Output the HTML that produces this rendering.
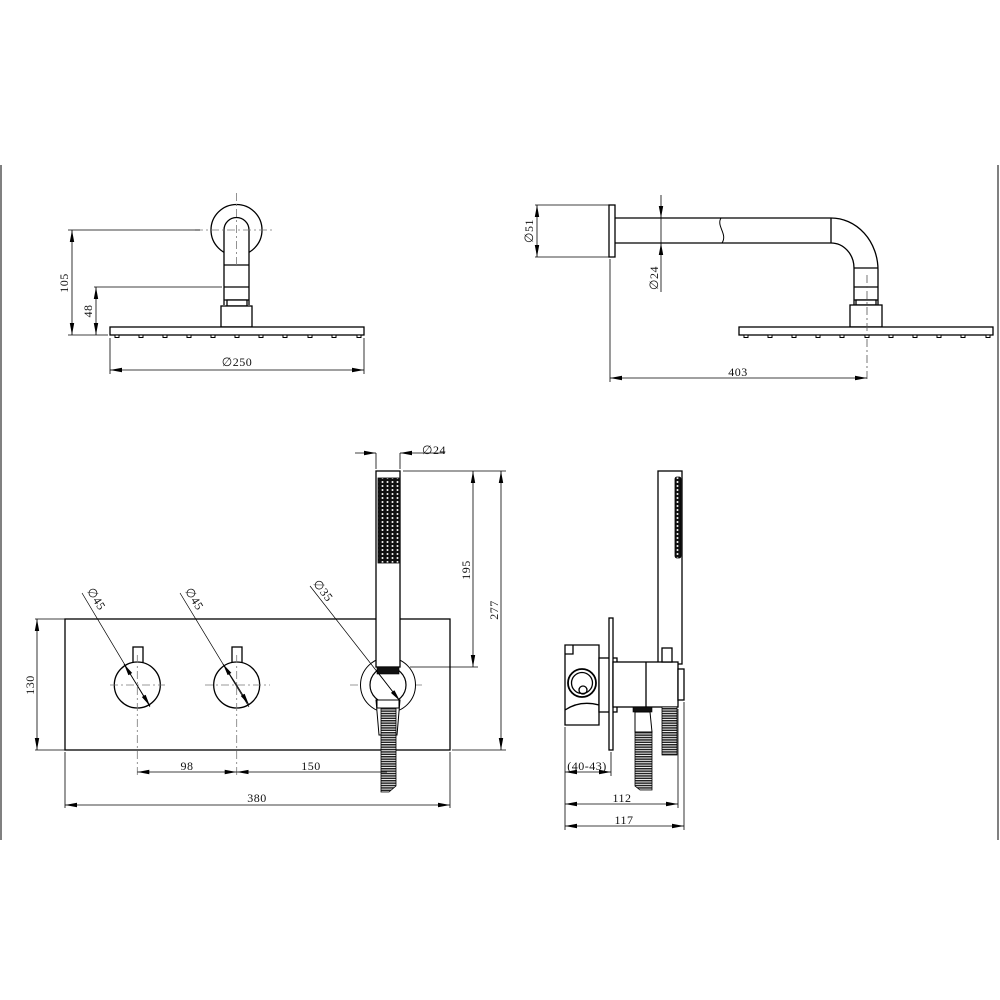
<!DOCTYPE html>
<html><head><meta charset="utf-8"><style>
html,body{margin:0;padding:0;background:#fff;}
svg{display:block;}
text{font-family:"Liberation Serif",serif;font-size:12px;fill:#111;letter-spacing:0.5px;}
</style></head><body>
<svg width="1000" height="1000" viewBox="0 0 1000 1000" xmlns="http://www.w3.org/2000/svg">
<defs>
<marker id="a" viewBox="0 0 12 6" refX="12" refY="3" markerWidth="12" markerHeight="6" orient="auto-start-reverse" markerUnits="userSpaceOnUse"><path d="M0,0.8 L12,3 L0,5.2z" fill="#000"/></marker>
<pattern id="hose" width="6" height="2.4" patternUnits="userSpaceOnUse"><rect width="6" height="2.4" fill="#fff"/><rect width="6" height="1.5" fill="#222"/></pattern>
<pattern id="noz" width="5" height="4" patternUnits="userSpaceOnUse"><rect width="5" height="4" fill="#111"/><circle cx="2.5" cy="2" r="1" fill="#fff"/></pattern>
</defs>
<g fill="none" stroke="#000" stroke-width="1.3">
<line x1="1" y1="165" x2="1" y2="840" stroke-width="1"/>
<line x1="998" y1="165" x2="998" y2="840" stroke-width="1"/>

<circle cx="236.5" cy="230" r="25.5"/>
<path d="M224,305 V230 A12.5,12.5 0 0 1 249,230 V305" fill="#fff"/>
<line x1="224" y1="265" x2="249" y2="265"/>
<line x1="224" y1="287" x2="249" y2="287"/>
<line x1="224" y1="300" x2="249" y2="300"/>
<rect x="227" y="300" width="20" height="6" fill="#fff"/>
<rect x="221" y="306" width="31" height="21" fill="#fff"/>
<rect x="110" y="327" width="254" height="8" fill="#fff"/>
<g stroke-width="1" fill="#fff">
<rect x="115" y="335" width="4" height="2.5"/><rect x="139" y="335" width="4" height="2.5"/><rect x="163" y="335" width="4" height="2.5"/><rect x="187" y="335" width="4" height="2.5"/><rect x="211" y="335" width="4" height="2.5"/><rect x="235" y="335" width="4" height="2.5"/><rect x="259" y="335" width="4" height="2.5"/><rect x="283" y="335" width="4" height="2.5"/><rect x="308" y="335" width="4" height="2.5"/><rect x="332" y="335" width="4" height="2.5"/><rect x="357" y="335" width="4" height="2.5"/>
</g>
<g stroke="#777" stroke-width="0.8" stroke-dasharray="8,3,2,3">
<line x1="236.5" y1="193" x2="236.5" y2="265"/>
<line x1="195" y1="230" x2="275" y2="230"/>
</g>
<g stroke-width="0.8">
<line x1="68" y1="230" x2="200" y2="230"/>
<line x1="94" y1="287" x2="222" y2="287"/>
<line x1="68" y1="335" x2="108" y2="335"/>
<line x1="72" y1="230" x2="72" y2="335" marker-start="url(#a)" marker-end="url(#a)"/>
<line x1="96" y1="287" x2="96" y2="335" marker-start="url(#a)" marker-end="url(#a)"/>
<line x1="110" y1="338" x2="110" y2="374"/>
<line x1="364" y1="338" x2="364" y2="374"/>
<line x1="110" y1="370" x2="364" y2="370" marker-start="url(#a)" marker-end="url(#a)"/>
</g>

<rect x="609" y="205" width="6" height="52" fill="#fff"/>
<path d="M615,218 H831 A47,52 0 0 1 878,270 V305 M615,243 H831 A23,25 0 0 1 854,268 V305"/>
<line x1="831" y1="218" x2="831" y2="243"/>
<path d="M721,218 C716,226 728,234 722,243" stroke-width="1"/>
<line x1="854" y1="268" x2="878" y2="268"/>
<line x1="854" y1="287" x2="878" y2="287"/>
<line x1="854" y1="300" x2="878" y2="300"/>
<rect x="856" y="300" width="20" height="5" fill="#fff"/>
<rect x="850" y="305" width="32" height="22" fill="#fff"/>
<rect x="739" y="327" width="254" height="8" fill="#fff"/>
<g stroke-width="1" fill="#fff">
<rect x="744" y="335" width="4" height="2.5"/><rect x="768" y="335" width="4" height="2.5"/><rect x="792" y="335" width="4" height="2.5"/><rect x="816" y="335" width="4" height="2.5"/><rect x="840" y="335" width="4" height="2.5"/><rect x="865" y="335" width="4" height="2.5"/><rect x="889" y="335" width="4" height="2.5"/><rect x="913" y="335" width="4" height="2.5"/><rect x="937" y="335" width="4" height="2.5"/><rect x="961" y="335" width="4" height="2.5"/><rect x="986" y="335" width="4" height="2.5"/>
</g>
<line x1="867" y1="275" x2="867" y2="382" stroke="#555" stroke-width="0.8" stroke-dasharray="8,3,2,3"/>
<g stroke-width="0.8">
<line x1="535" y1="205" x2="609" y2="205"/>
<line x1="535" y1="257" x2="609" y2="257"/>
<line x1="537" y1="205" x2="537" y2="257" marker-start="url(#a)" marker-end="url(#a)"/>
<line x1="661" y1="195" x2="661" y2="218" marker-end="url(#a)"/>
<line x1="661" y1="292" x2="661" y2="243" marker-end="url(#a)"/>
<line x1="661" y1="218" x2="661" y2="243"/>
<line x1="610" y1="259" x2="610" y2="382"/>
<line x1="610" y1="378" x2="867" y2="378" marker-start="url(#a)" marker-end="url(#a)"/>
</g>

<rect x="65" y="619" width="385" height="131" fill="#fff"/>
<rect x="133" y="647" width="10" height="16" fill="#fff"/>
<circle cx="137.3" cy="685" r="23" fill="#fff"/>
<rect x="232" y="647" width="10" height="16" fill="#fff"/>
<circle cx="236.7" cy="685" r="23" fill="#fff"/>
<g stroke="#777" stroke-width="0.8" stroke-dasharray="8,3,2,3">
<line x1="110" y1="685" x2="165" y2="685"/><line x1="137.3" y1="655" x2="137.3" y2="775"/>
<line x1="205" y1="685" x2="270" y2="685"/><line x1="236.7" y1="655" x2="236.7" y2="775"/>
<line x1="350" y1="685" x2="425" y2="685"/><line x1="388" y1="655" x2="388" y2="715"/>
</g>
<circle cx="388" cy="685" r="27.5" stroke-width="1" fill="#fff"/>
<circle cx="388" cy="685" r="18" stroke-width="1.2"/>
<rect x="376" y="471" width="24" height="196" fill="#fff"/>
<rect x="378" y="478" width="21" height="85" fill="url(#noz)" stroke-width="0.8"/>
<rect x="377" y="667" width="22" height="7" fill="#111" stroke-width="0.6"/>
<path d="M376,700 L400,700 L397,735 L379,735 Z" fill="#fff" stroke-width="1"/>
<rect x="377" y="700" width="22" height="8" fill="#fff" stroke-width="1"/>
<path d="M381,708 H396 V786 L389,792 H381 Z" fill="url(#hose)" stroke-width="0.8"/>
<g stroke-width="0.8">
<line x1="35" y1="619" x2="65" y2="619"/><line x1="35" y1="750" x2="65" y2="750"/>
<line x1="37" y1="619" x2="37" y2="750" marker-start="url(#a)" marker-end="url(#a)"/>
<line x1="65" y1="752" x2="65" y2="808"/>
<line x1="450" y1="752" x2="450" y2="808"/>
<line x1="137.3" y1="772" x2="236.7" y2="772" marker-start="url(#a)" marker-end="url(#a)"/>
<line x1="236.7" y1="772" x2="387" y2="772" marker-start="url(#a)"/>
<line x1="65" y1="805" x2="450" y2="805" marker-start="url(#a)" marker-end="url(#a)"/>
<line x1="82" y1="593" x2="150" y2="707" stroke-width="0.7"/>
<line x1="137" y1="685" x2="124" y2="664" marker-end="url(#a)"/>
<line x1="137" y1="685" x2="150" y2="706" marker-end="url(#a)"/>
<line x1="180" y1="593" x2="249" y2="707" stroke-width="0.7"/>
<line x1="236" y1="684" x2="249" y2="705" marker-end="url(#a)"/>
<line x1="236" y1="684" x2="223" y2="664" marker-end="url(#a)"/>
<line x1="310" y1="586" x2="400" y2="701" stroke-width="0.7"/>
<line x1="376" y1="670" x2="400" y2="701" marker-end="url(#a)"/>
<line x1="376" y1="453" x2="376" y2="469"/><line x1="400" y1="453" x2="400" y2="469"/>
<line x1="355" y1="453" x2="376" y2="453" marker-end="url(#a)"/>
<line x1="445" y1="453" x2="400" y2="453" marker-end="url(#a)"/>
<line x1="403" y1="471" x2="506" y2="471"/>
<line x1="410" y1="667" x2="478" y2="667"/>
<line x1="452" y1="750" x2="506" y2="750"/>
<line x1="473" y1="471" x2="473" y2="667" marker-start="url(#a)" marker-end="url(#a)"/>
<line x1="501" y1="471" x2="501" y2="750" marker-start="url(#a)" marker-end="url(#a)"/>
</g>

<rect x="658" y="471" width="24" height="193" fill="#fff"/>
<rect x="675" y="477" width="6" height="81" rx="2" fill="url(#noz)" stroke-width="0.8"/>
<path d="M565,645 H599 V725 H565 Z M565,654 L573,654 L573,645 M565,710 Q580,700 599,705" fill="#fff"/>
<circle cx="582" cy="683" r="14" stroke-width="1.8"/>
<circle cx="582" cy="683" r="10.5"/>
<circle cx="583" cy="690" r="4"/>
<rect x="599" y="658" width="18" height="54" fill="#fff"/>
<rect x="609" y="618" width="4" height="132" fill="#fff"/>
<rect x="613" y="662" width="65" height="45" fill="#fff"/>
<line x1="646" y1="662" x2="646" y2="707"/>
<rect x="662" y="648" width="10" height="14" fill="#fff"/>
<rect x="678" y="669" width="6" height="31" fill="#fff"/>
<rect x="633" y="707" width="19" height="5" fill="#111" stroke-width="0.6"/>
<path d="M635,712 H650 L652,732 H635 Z" fill="#fff" stroke-width="1"/>
<path d="M635,732 H652 V790 H640 L635,786 Z" fill="url(#hose)" stroke-width="0.8"/>
<path d="M662,707 H677 V755 H662 Z" fill="url(#hose)" stroke-width="0.8"/>
<g stroke-width="0.8">
<line x1="565" y1="727" x2="565" y2="830"/>
<line x1="611" y1="752" x2="611" y2="776"/>
<line x1="678" y1="709" x2="678" y2="808"/>
<line x1="684" y1="702" x2="684" y2="830"/>
<line x1="565" y1="772" x2="611" y2="772" marker-start="url(#a)" marker-end="url(#a)"/>
<line x1="565" y1="804" x2="678" y2="804" marker-start="url(#a)" marker-end="url(#a)"/>
<line x1="565" y1="826" x2="684" y2="826" marker-start="url(#a)" marker-end="url(#a)"/>
</g>
</g>

<text transform="translate(68,283) rotate(-90)" text-anchor="middle">105</text>
<text transform="translate(92,311) rotate(-90)" text-anchor="middle">48</text>
<text x="237" y="366" text-anchor="middle">∅250</text>
<text transform="translate(533,231) rotate(-90)" text-anchor="middle">∅51</text>
<text transform="translate(658,278) rotate(-90)" text-anchor="middle">∅24</text>
<text x="738" y="376" text-anchor="middle">403</text>
<text x="434" y="454" text-anchor="middle">∅24</text>
<text transform="translate(470,570) rotate(-90)" text-anchor="middle">195</text>
<text transform="translate(498,610) rotate(-90)" text-anchor="middle">277</text>
<text transform="translate(34,685) rotate(-90)" text-anchor="middle">130</text>
<text transform="translate(93,601) rotate(58)" text-anchor="middle">∅45</text>
<text transform="translate(191,601) rotate(58)" text-anchor="middle">∅45</text>
<text transform="translate(320,593) rotate(52)" text-anchor="middle">∅35</text>
<text x="187" y="770" text-anchor="middle">98</text>
<text x="311" y="770" text-anchor="middle">150</text>
<text x="257" y="802" text-anchor="middle">380</text>
<text x="587" y="770" text-anchor="middle">(40-43)</text>
<text x="622" y="802" text-anchor="middle">112</text>
<text x="624" y="824" text-anchor="middle">117</text>
</svg>
</body></html>
